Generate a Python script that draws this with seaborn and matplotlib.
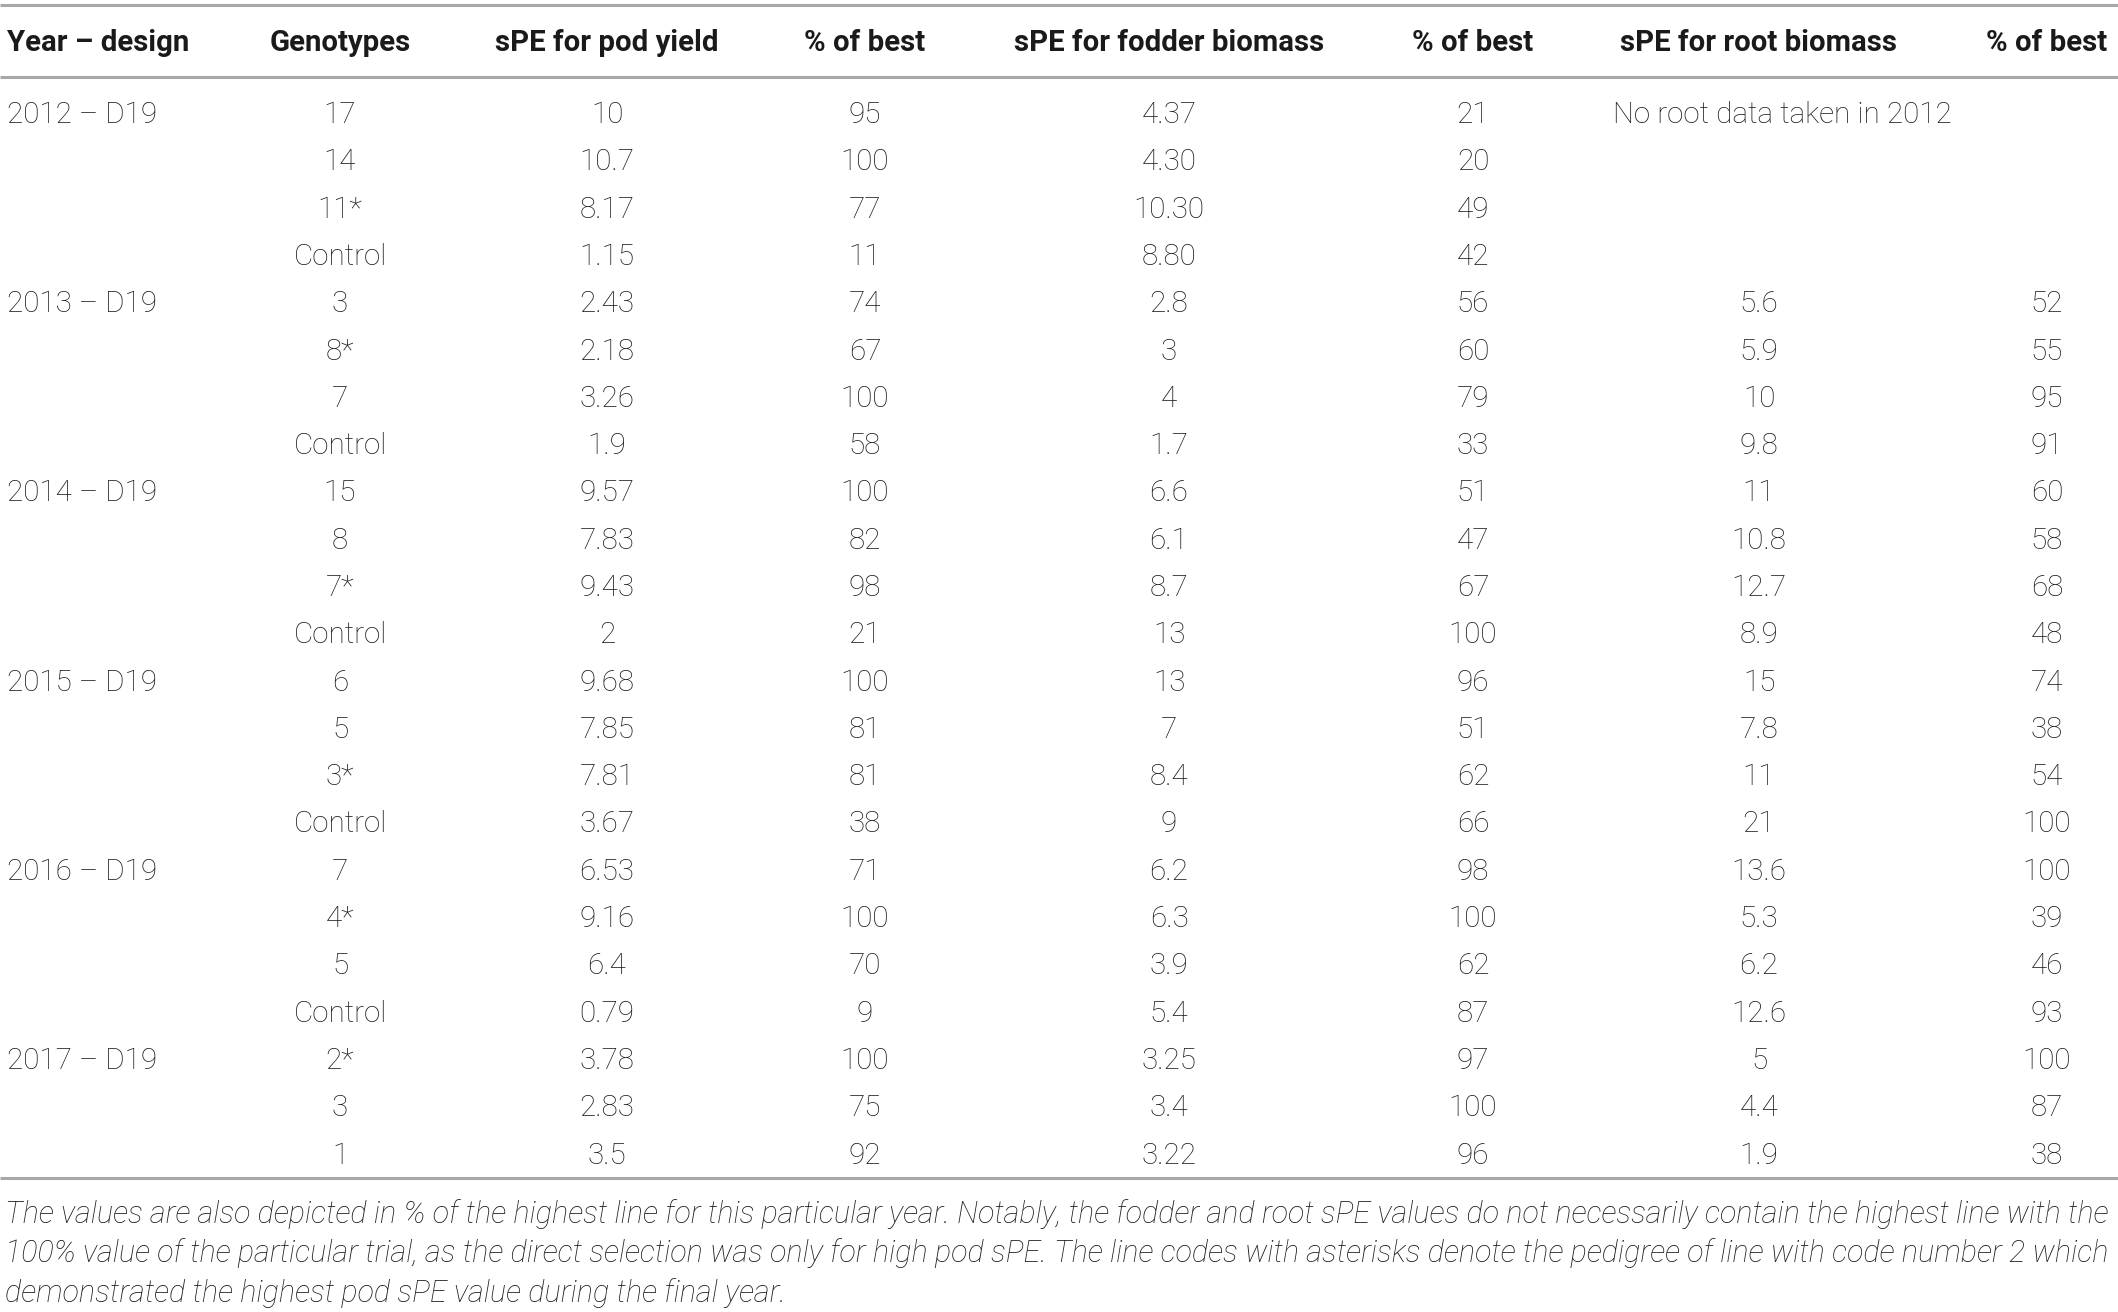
import matplotlib
matplotlib.use("Agg")
import matplotlib.pyplot as plt
import seaborn as sns

# ---- data ----
headers = ["Year – design", "Genotypes", "sPE for pod yield", "% of best",
           "sPE for fodder biomass", "% of best", "sPE for root biomass", "% of best"]
year_labels = ["2012 – D19", "2013 – D19", "2014 – D19", "2015 – D19", "2016 – D19", "2017 – D19"]
year_sizes = [4, 4, 4, 4, 4, 3]
genotypes = ["17", "14", "11*", "Control", "3", "8*", "7", "Control", "15", "8", "7*", "Control",
             "6", "5", "3*", "Control", "7", "4*", "5", "Control", "2*", "3", "1"]
pod_spe = ["10", "10.7", "8.17", "1.15", "2.43", "2.18", "3.26", "1.9", "9.57", "7.83", "9.43", "2",
           "9.68", "7.85", "7.81", "3.67", "6.53", "9.16", "6.4", "0.79", "3.78", "2.83", "3.5"]
pod_pct = ["95", "100", "77", "11", "74", "67", "100", "58", "100", "82", "98", "21",
           "100", "81", "81", "38", "71", "100", "70", "9", "100", "75", "92"]
fodder_spe = ["4.37", "4.30", "10.30", "8.80", "2.8", "3", "4", "1.7", "6.6", "6.1", "8.7", "13",
              "13", "7", "8.4", "9", "6.2", "6.3", "3.9", "5.4", "3.25", "3.4", "3.22"]
fodder_pct = ["21", "20", "49", "42", "56", "60", "79", "33", "51", "47", "67", "100",
              "96", "51", "62", "66", "98", "100", "62", "87", "97", "100", "96"]
root_spe = ["", "", "", "", "5.6", "5.9", "10", "9.8", "11", "10.8", "12.7", "8.9",
            "15", "7.8", "11", "21", "13.6", "5.3", "6.2", "12.6", "5", "4.4", "1.9"]
root_pct = ["", "", "", "", "52", "55", "95", "91", "60", "58", "68", "48",
            "74", "38", "54", "100", "100", "39", "46", "93", "100", "87", "38"]
no_root_note = "No root data taken in 2012"
footnote = [
    "The values are also depicted in % of the highest line for this particular year. Notably, the fodder and root sPE values do not necessarily contain the highest line with the",
    "100% value of the particular trial, as the direct selection was only for high pod sPE. The line codes with asterisks denote the pedigree of line with code number 2 which",
    "demonstrated the highest pod sPE value during the final year.",
]

# ---- style ----
sns.set_theme(style="white")
plt.rcParams["font.family"] = ["Roboto", "DejaVu Sans"]

W, H = 2118, 1312
fig = plt.figure(figsize=(W / 100, H / 100), dpi=100)
ax = fig.add_axes([0, 0, 1, 1])
ax.set_xlim(0, W)
ax.set_ylim(H, 0)
ax.axis("off")

col_x = [7, 340, 607, 865, 1169, 1473, 1759, 2047]
header_y = 43
row_y0 = 115
row_dy = 47.3
fs = 21.3
body_color = "#1c1c1c"
line_color = "#a8a8a8"

# rules
for y in (5, 77, 1178):
    ax.plot([0, W], [y, y], color=line_color, lw=2.2, solid_capstyle="butt")

# headers
for i, (x, h) in enumerate(zip(col_x, headers)):
    ax.text(x, header_y, h, ha="left" if i == 0 else "center", va="center",
            fontsize=21.2, fontweight="bold", color="#1a1a1a")

# year labels
r = 0
for lab, n in zip(year_labels, year_sizes):
    ax.text(col_x[0], row_y0 + r * row_dy, lab, ha="left", va="center",
            fontsize=fs, fontweight="light", color=body_color)
    r += n

cols = [genotypes, pod_spe, pod_pct, fodder_spe, fodder_pct, root_spe, root_pct]
for ci, col in enumerate(cols, start=1):
    for ri, val in enumerate(col):
        if val:
            ax.text(col_x[ci], row_y0 + ri * row_dy, val, ha="center", va="center",
                    fontsize=fs, fontweight="light", color=body_color)

ax.text(1613, row_y0, no_root_note, ha="left", va="center",
        fontsize=fs, fontweight="light", color=body_color)

for i, line in enumerate(footnote):
    ax.text(5, 1214 + i * 39.5, line, ha="left", va="center", fontsize=22.0,
            fontstyle="italic", fontweight="light", color=body_color)

fig.savefig("out.png", dpi=100, facecolor="white")
